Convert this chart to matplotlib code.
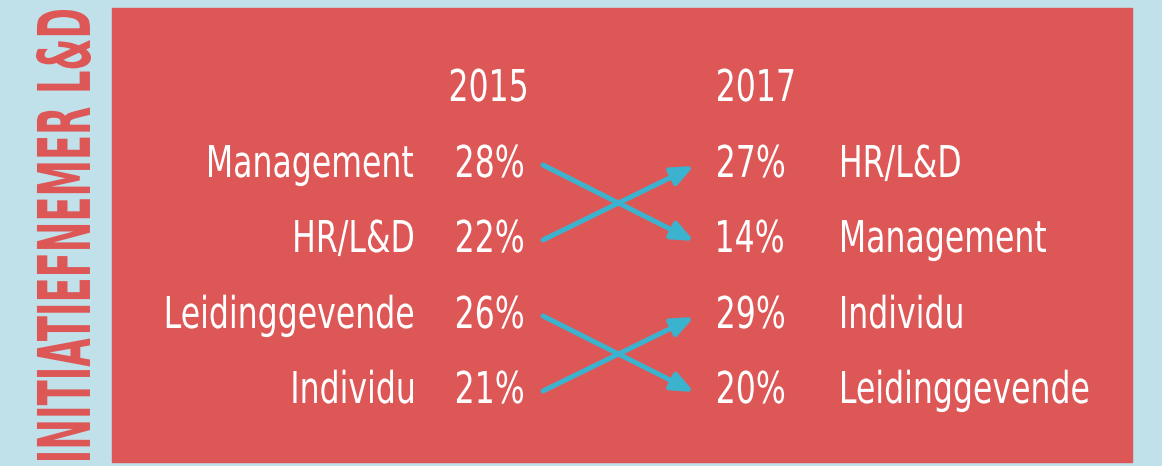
import matplotlib.pyplot as plt
from matplotlib.textpath import TextPath
from matplotlib.patches import PathPatch, Rectangle
from matplotlib.font_manager import FontProperties
from matplotlib.transforms import Affine2D

# data
years = ['2015', '2017']
labels_2015 = ['Management', 'HR/L&D', 'Leidinggevende', 'Individu']
values_2015 = [28, 22, 26, 21]
labels_2017 = ['HR/L&D', 'Management', 'Individu', 'Leidinggevende']
values_2017 = [27, 14, 29, 20]
side_title = 'INITIATIEFNEMER L&D'

bg = '#c0e0ea'
red = '#de5757'
blue = '#3bb3cf'

fig = plt.figure(figsize=(11.62, 4.66), dpi=100, facecolor=bg)
ax = fig.add_axes([0, 0, 1, 1])
ax.set_xlim(0, 1162)
ax.set_ylim(466, 0)
ax.axis('off')

ax.add_patch(Rectangle((112, 8), 1020, 454, color=red, zorder=0))

# no condensed font available -> squeeze text paths horizontally
fp = FontProperties(family='DejaVu Sans')
cap_px = 32
sy = cap_px / TextPath((0, 0), 'H', size=100, prop=fp).get_extents().height
sx = 204 / TextPath((0, 0), 'Management', size=100, prop=fp).get_extents().width


def squeezed(s, x, base, ha='left', color='white'):
    tp = TextPath((0, 0), s, size=100, prop=fp)
    bb = tp.get_extents()
    if ha == 'left':
        ref = bb.x0
    elif ha == 'right':
        ref = bb.x1
    else:
        ref = (bb.x0 + bb.x1) / 2
    tr = Affine2D().translate(-ref, 0).scale(sx, -sy).translate(x, base)
    ax.add_patch(PathPatch(tr.transform_path(tp), color=color, lw=0))


# vertical title
fpb = FontProperties(family='DejaVu Sans', weight='bold')
tp = TextPath((0, 0), side_title, size=100, prop=fpb)
bb = tp.get_extents()
tr = (Affine2D().translate(-bb.x0, -bb.y0).scale(450 / bb.width, 55 / bb.height)
      .rotate_deg(90).scale(1, -1).translate(91, 460))
ax.add_patch(PathPatch(tr.transform_path(tp), color=red, lw=0))

# rows
year_base = 101
row_base = [177, 252, 328, 403]
squeezed(years[0], 526, year_base, 'right')
squeezed(years[1], 718, year_base, 'left')
for i in range(4):
    b = row_base[i]
    squeezed(labels_2015[i], 413, b, 'right')
    squeezed(f'{values_2015[i]}%', 523, b, 'right')
    squeezed(f'{values_2017[i]}%', 718, b, 'left')
    squeezed(labels_2017[i], 842, b, 'left')

# arrows from old position to new position
for i, lab in enumerate(labels_2015):
    j = labels_2017.index(lab)
    ax.annotate('', xy=(694, row_base[j] - 11), xytext=(543, row_base[i] - 12),
                arrowprops=dict(arrowstyle='-|>,head_length=1.3,head_width=0.55',
                                color=blue, lw=3.6, shrinkA=0, shrinkB=0))

fig.savefig('out.png', dpi=100, facecolor=bg)
